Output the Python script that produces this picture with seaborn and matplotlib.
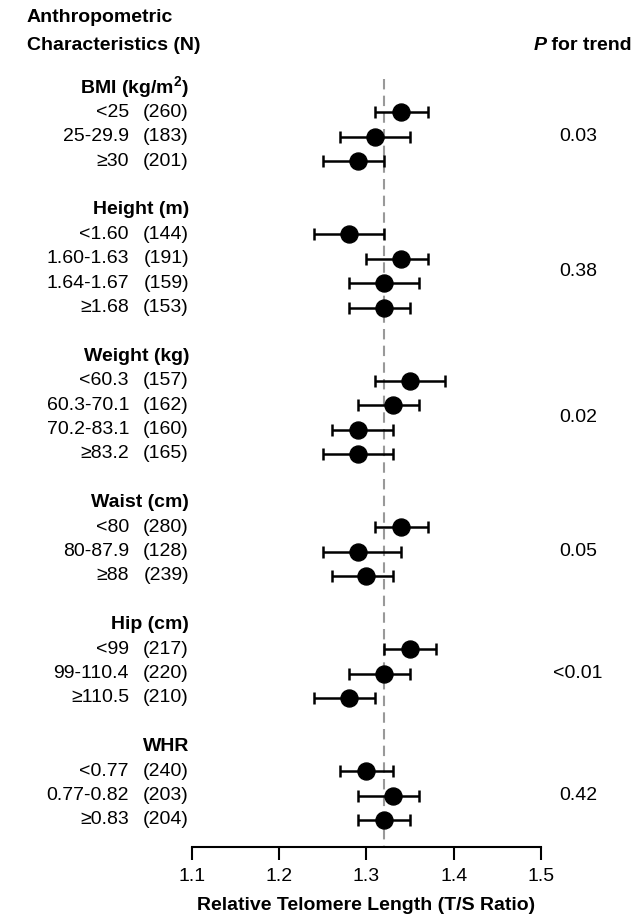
import matplotlib
matplotlib.use("Agg")
import matplotlib.pyplot as plt
import matplotlib.transforms as mtransforms
import seaborn as sns
import pandas as pd

# Values
groups = [r"BMI (kg/m$^{\mathbf{2}}$)", "Height (m)", "Weight (kg)", "Waist (cm)",
          "Hip (cm)", "WHR"]
group_sizes = [3, 4, 4, 3, 3, 3]
p_trend = ["0.03", "0.38", "0.02", "0.05", "<0.01", "0.42"]

categories = ["<25", "25-29.9", "≥30",
              "<1.60", "1.60-1.63", "1.64-1.67", "≥1.68",
              "<60.3", "60.3-70.1", "70.2-83.1", "≥83.2",
              "<80", "80-87.9", "≥88",
              "<99", "99-110.4", "≥110.5",
              "<0.77", "0.77-0.82", "≥0.83"]
n_counts = [260, 183, 201,
            144, 191, 159, 153,
            157, 162, 160, 165,
            280, 128, 239,
            217, 220, 210,
            240, 203, 204]
estimate = [1.34, 1.31, 1.29,
            1.28, 1.34, 1.32, 1.32,
            1.35, 1.33, 1.29, 1.29,
            1.34, 1.29, 1.30,
            1.35, 1.32, 1.28,
            1.30, 1.33, 1.32]
ci_low = [1.31, 1.27, 1.25,
          1.24, 1.30, 1.28, 1.28,
          1.31, 1.29, 1.26, 1.25,
          1.31, 1.25, 1.26,
          1.32, 1.28, 1.24,
          1.27, 1.29, 1.29]
ci_high = [1.37, 1.35, 1.32,
           1.32, 1.37, 1.36, 1.35,
           1.39, 1.36, 1.33, 1.33,
           1.37, 1.34, 1.33,
           1.38, 1.35, 1.31,
           1.33, 1.36, 1.35]
reference = 1.32

sns.set_style("white")
plt.rcParams['font.family'] = ['Liberation Sans', 'DejaVu Sans']
plt.rcParams['mathtext.fontset'] = 'custom'
plt.rcParams['mathtext.rm'] = 'Liberation Sans'
plt.rcParams['mathtext.bf'] = 'Liberation Sans:bold'
plt.rcParams['text.color'] = 'black'
plt.rcParams['xtick.color'] = 'black'
plt.rcParams['axes.labelcolor'] = 'black'
FS = 14

# row positions: header row, then rows, then a blank row between groups
row_pos, header_pos, p_pos = [], [], []
idx = 0
for size in group_sizes:
    header_pos.append(idx)
    rows = list(range(idx + 1, idx + 1 + size))
    row_pos.extend(rows)
    p_pos.append(sum(rows) / len(rows))
    idx += size + 2

df = pd.DataFrame({"cat": categories, "n": n_counts, "est": estimate,
                   "lo": ci_low, "hi": ci_high, "y": row_pos})

W, H = 637, 918
fig = plt.figure(figsize=(W / 100, H / 100), dpi=100)
top_px, bot_px = 60, 847
ax = fig.add_axes([192 / W, (H - bot_px) / H, (541 - 192) / W, (bot_px - top_px) / H])

step = 24.4
y_top = (top_px - 88) / step
y_bot = (bot_px - 88) / step

ax.plot([reference, reference], [-0.35, y_bot], color="#999999", lw=1.5,
        dashes=(5, 3), zorder=1)
ax.errorbar(df["est"], df["y"], xerr=[df["est"] - df["lo"], df["hi"] - df["est"]],
            fmt="none", ecolor="black", elinewidth=1.8, capsize=4.5, capthick=1.8,
            zorder=2, clip_on=False)
sns.scatterplot(data=df, x="est", y="y", ax=ax, color="black", s=150,
                edgecolor="black", zorder=3, clip_on=False, legend=False)

ax.set_xlim(1.1, 1.5)
ax.set_ylim(y_bot, y_top)
ax.set_xticks([1.1, 1.2, 1.3, 1.4, 1.5])
ax.set_xticklabels(["1.1", "1.2", "1.3", "1.4", "1.5"], fontsize=FS)
ax.set_yticks([])
ax.set_ylabel("")
ax.set_xlabel("Relative Telomere Length (T/S Ratio)", fontsize=FS, fontweight="bold",
              labelpad=9)
for s in ["top", "right", "left"]:
    ax.spines[s].set_visible(False)
ax.spines["bottom"].set_color("black")
ax.spines["bottom"].set_linewidth(1.5)
ax.tick_params(axis="x", direction="out", length=9, width=1.5, color="black", pad=6,
               bottom=True)

trans = mtransforms.blended_transform_factory(fig.transFigure, ax.transData)
for g, hp in zip(groups, header_pos):
    ax.text(189 / W, hp, g, transform=trans, ha="right", va="center",
            fontsize=FS, fontweight="bold")
for c, n, y in zip(categories, n_counts, row_pos):
    ax.text(129 / W, y, c, transform=trans, ha="right", va="center", fontsize=FS)
    ax.text(189 / W, y, f"({n})", transform=trans, ha="right", va="center", fontsize=FS)
for p, y in zip(p_trend, p_pos):
    ax.text(578 / W, y, p, transform=trans, ha="center", va="center", fontsize=FS)

fig.text(27 / W, 1 - 18 / H, "Anthropometric", ha="left", va="center",
         fontsize=FS, fontweight="bold")
fig.text(27 / W, 1 - 45 / H, "Characteristics (N)", ha="left", va="center",
         fontsize=FS, fontweight="bold")
t = fig.text(632 / W, 1 - 45 / H, " for trend", ha="right", va="center",
             fontsize=FS, fontweight="bold")
ax.annotate("P", xy=(0, 0.5), xycoords=t, ha="right", va="center", fontsize=FS,
            fontweight="bold", fontstyle="italic", annotation_clip=False)

fig.savefig("out.png", dpi=100)
